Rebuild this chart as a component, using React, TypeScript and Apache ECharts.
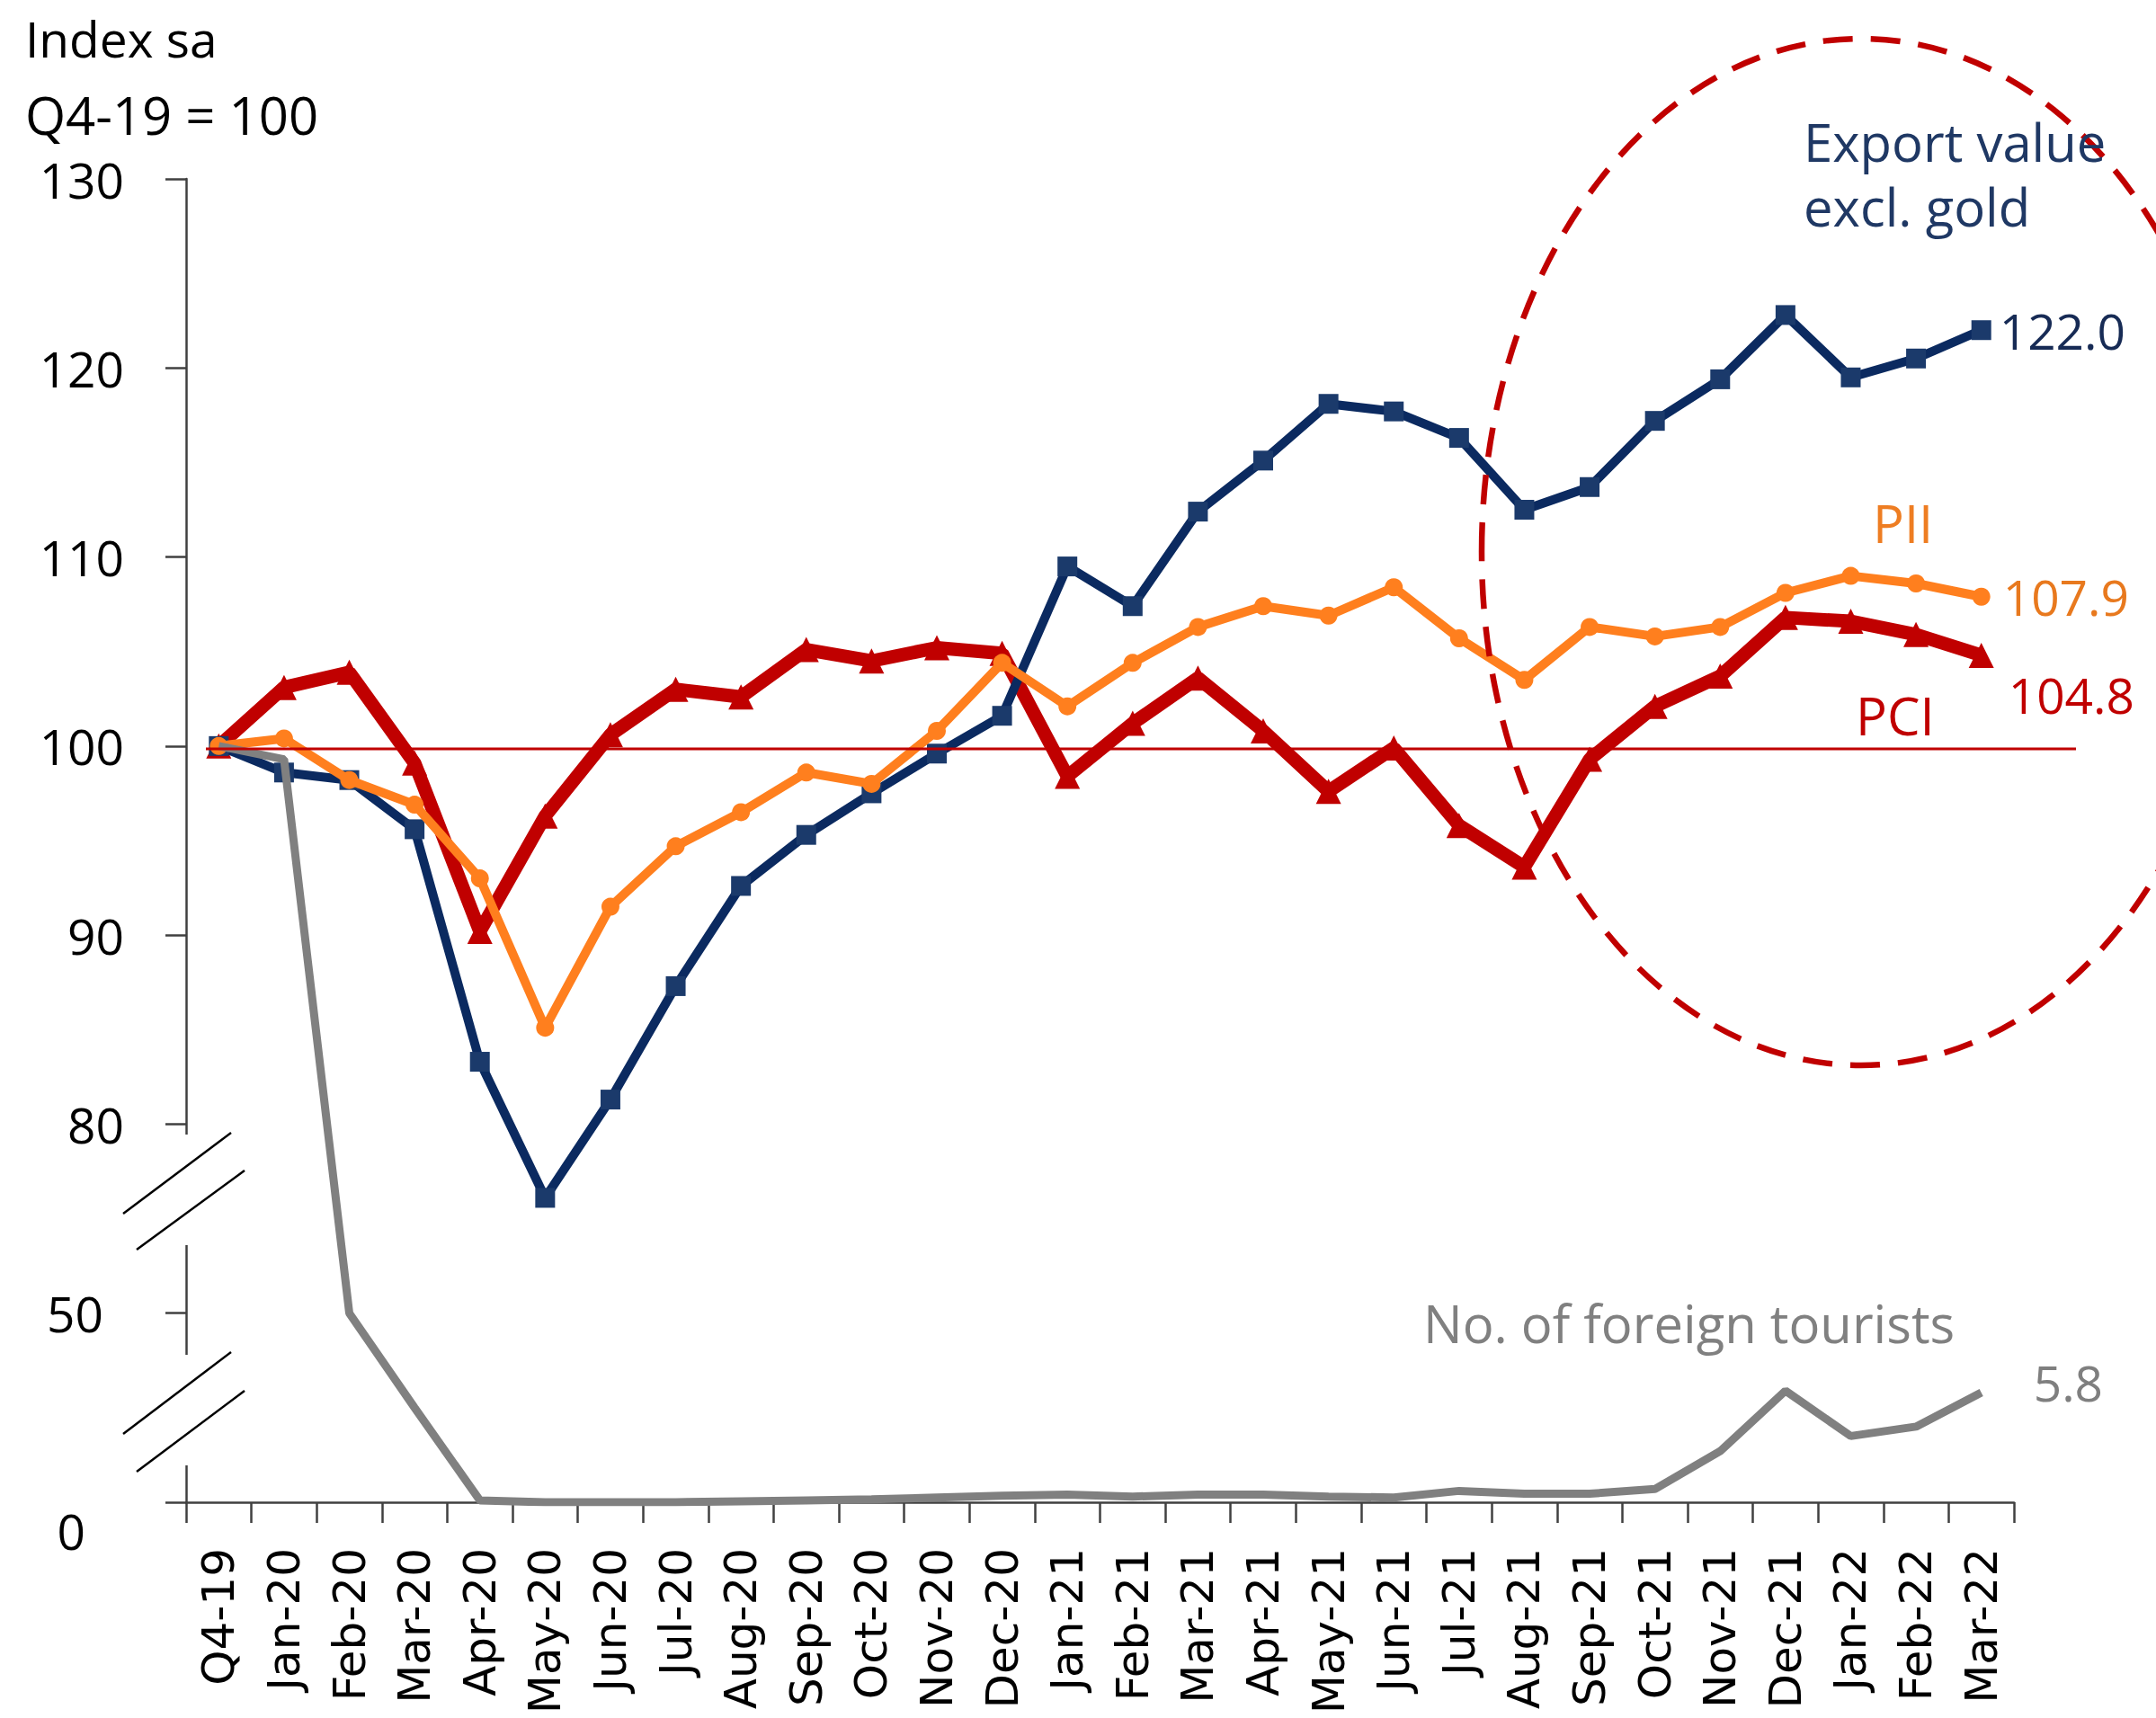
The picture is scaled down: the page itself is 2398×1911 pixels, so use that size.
import React, { useEffect, useRef } from 'react';
import * as echarts from 'echarts';

const categories = ['Q4-19', 'Jan-20', 'Feb-20', 'Mar-20', 'Apr-20', 'May-20', 'Jun-20', 'Jul-20', 'Aug-20', 'Sep-20', 'Oct-20', 'Nov-20', 'Dec-20', 'Jan-21', 'Feb-21', 'Mar-21', 'Apr-21', 'May-21', 'Jun-21', 'Jul-21', 'Aug-21', 'Sep-21', 'Oct-21', 'Nov-21', 'Dec-21', 'Jan-22', 'Feb-22', 'Mar-22'];

const exportValue = [100, 98.6, 98.2, 95.6, 83.3, 76.1, 81.3, 87.3, 92.6, 95.3, 97.5, 99.6, 101.6, 109.5, 107.4, 112.4, 115.1, 118.1, 117.7, 116.3, 112.5, 113.7, 117.2, 119.4, 122.8, 119.5, 120.5, 122.0];
const pii = [100, 100.4, 98.2, 96.9, 93.0, 85.1, 91.5, 94.7, 96.5, 98.6, 98.0, 100.8, 104.4, 102.1, 104.4, 106.3, 107.4, 106.9, 108.4, 105.7, 103.5, 106.3, 105.8, 106.3, 108.1, 109.0, 108.6, 107.9];
const pci = [100, 103.1, 103.9, 99.1, 90.2, 96.3, 100.6, 103.0, 102.6, 105.1, 104.5, 105.2, 104.9, 98.4, 101.2, 103.6, 100.8, 97.6, 99.9, 95.8, 93.6, 99.3, 102.1, 103.7, 106.8, 106.6, 105.9, 104.8];
const tourists = [100, 99.3, 50, 5.0, 0.1, 0, 0, 0, 0.05, 0.1, 0.15, 0.25, 0.35, 0.4, 0.3, 0.4, 0.4, 0.3, 0.25, 0.6, 0.45, 0.45, 0.7, 2.7, 5.9, 3.5, 4.0, 5.8];

// y-axis tick values in display space and their printed labels (broken axis)
const yTickValues = [60, 70, 80, 90, 100, 110, 120, 130];
const yTickLabels = ['0', '50', '80', '90', '100', '110', '120', '130'];
const refLineValue = [99.85];

// broken-axis mapping for the tourists series (0..8 is shown 1:1 in the bottom band)
const toDisplay = (v: number) =>
  v >= 80 ? v : v >= 50 ? 70 + (v - 50) / 3 : v <= 8 ? 60 + v : 68 + (v - 8) / 21;

const FONT = 'Open Sans';
const NAVY = '#0B2A60';
const ORANGE = '#FF7F1E';
const RED = '#C00000';
const GRAY = '#808080';

export default function App() {
  const ref = useRef<HTMLDivElement>(null);
  useEffect(() => {
    const el = ref.current!;
    const chart = echarts.init(el, null, { renderer: 'svg' });
    const GRID_LEFT = 207;
    const option: any = {
      animation: false,
      backgroundColor: '#ffffff',
      grid: { left: GRID_LEFT, right: 158, top: 199, bottom: 240, containLabel: false, outerBoundsMode: 'none' },
      xAxis: {
        type: 'category',
        data: categories,
        boundaryGap: true,
        axisLine: { lineStyle: { color: '#404040', width: 2.5 } },
        axisTick: { show: true, length: 23, lineStyle: { color: '#404040', width: 2.5 } },
        axisLabel: { interval: 0, rotate: 90, margin: 51, fontSize: 50, fontFamily: 'DejaVu Sans', color: '#000' },
      },
      yAxis: {
        type: 'value',
        min: 60,
        max: 130,
        interval: 10,
        splitLine: { show: false },
        axisLine: { show: true, lineStyle: { color: '#404040', width: 2.5 } },
        axisTick: { show: true, length: 23, lineStyle: { color: '#404040', width: 2.5 } },
        axisLabel: {
          margin: 69,
          fontSize: 55,
          fontFamily: FONT,
          color: '#000',
          formatter: (v: number) => {
            const i = yTickValues.indexOf(v);
            const t = i >= 0 ? yTickLabels[i] : '';
            if (v === 60) return '{z|' + t + '}';
            if (v === 70) return '{f|' + t + '}';
            return t;
          },
          rich: {
            z: { fontSize: 55, fontFamily: FONT, color: '#000', padding: [62, 43, 0, 0] },
            f: { fontSize: 55, fontFamily: FONT, color: '#000', padding: [0, 23, 0, 0] },
          },
        },
      },
      series: [
        {
          name: 'PCI', type: 'line', data: pci, symbol: 'triangle', symbolSize: 28, z: 2,
          lineStyle: { color: RED, width: 15 }, itemStyle: { color: RED },
          endLabel: { show: true, distance: 30, offset: [0, 44], fontSize: 55, fontFamily: FONT, color: RED, formatter: () => pci[pci.length - 1].toFixed(1) },
        },
        {
          name: 'Export value excl. gold', type: 'line', data: exportValue, symbol: 'rect', symbolSize: 22, z: 3,
          lineStyle: { color: NAVY, width: 10 }, itemStyle: { color: '#1B3A6B' },
          endLabel: { show: true, distance: 20, fontSize: 55, fontFamily: FONT, color: '#172B55', formatter: () => exportValue[exportValue.length - 1].toFixed(1) },
        },
        {
          name: 'PII', type: 'line', data: pii, symbol: 'circle', symbolSize: 20, z: 4,
          lineStyle: { color: ORANGE, width: 10 }, itemStyle: { color: ORANGE },
          endLabel: { show: true, distance: 24, fontSize: 55, fontFamily: FONT, color: '#E8791E', formatter: () => pii[pii.length - 1].toFixed(1) },
        },
        {
          name: 'No. of foreign tourists', type: 'line', data: tourists.map(toDisplay), symbol: 'none', z: 5,
          lineStyle: { color: GRAY, width: 9 },
          endLabel: { show: true, distance: 58, offset: [0, -12], fontSize: 55, fontFamily: FONT, color: '#7F7F7F', formatter: () => tourists[tourists.length - 1].toFixed(1) },
        },
      ],
    };
    chart.setOption(option);

    const py = (v: number) => chart.convertToPixel({ yAxisIndex: 0 }, v) as number;
    const y100 = py(refLineValue[0]);
    const txt = (text: string, x: number, y: number, color: string, size = 58) => ({
      type: 'text', x, y, z: 100,
      style: { text, fill: color, fontSize: size, fontFamily: FONT, align: 'left', verticalAlign: 'middle' },
    });
    const slash = (x1: number, y1: number, x2: number, y2: number) => ({
      type: 'line', z: 101, shape: { x1, y1, x2, y2 }, style: { stroke: '#000', lineWidth: 2.5 },
    });
    chart.setOption({
      graphic: [
        { type: 'line', z: 90, shape: { x1: 229, y1: y100, x2: 2309, y2: y100 }, style: { stroke: RED, lineWidth: 3 } },
        { type: 'ellipse', z: 95, shape: { cx: 2070, cy: 614, rx: 422, ry: 571 }, style: { fill: 'none', stroke: RED, lineWidth: 6.5, lineDash: [33, 20] } },
        { type: 'rect', z: 99, shape: { x: GRID_LEFT - 5, y: py(79.45), width: 10, height: py(73.6) - py(79.45) }, style: { fill: '#fff' } },
        { type: 'rect', z: 99, shape: { x: GRID_LEFT - 5, y: py(67.8), width: 10, height: py(61.95) - py(67.8) }, style: { fill: '#fff' } },
        slash(137, 1350, 257, 1260),
        slash(152, 1390, 272, 1302),
        slash(137, 1595, 257, 1504),
        slash(152, 1637, 272, 1547),
        txt('Index sa', 28, 42, '#000', 55),
        txt('Q4-19 = 100', 28, 127, '#000'),
        txt('Export value', 2006, 157, '#1F3864'),
        txt('excl. gold', 2006, 229, '#1F3864'),
        txt('PII', 2083, 581, '#EE7D22'),
        txt('PCI', 2064, 795, RED),
        txt('No. of foreign tourists', 1583, 1471, '#808080'),
      ],
    });
    return () => chart.dispose();
  }, []);
  return <div ref={ref} style={{ position: 'absolute', left: 0, top: 0, width: 2398, height: 1911 }} />;
}
